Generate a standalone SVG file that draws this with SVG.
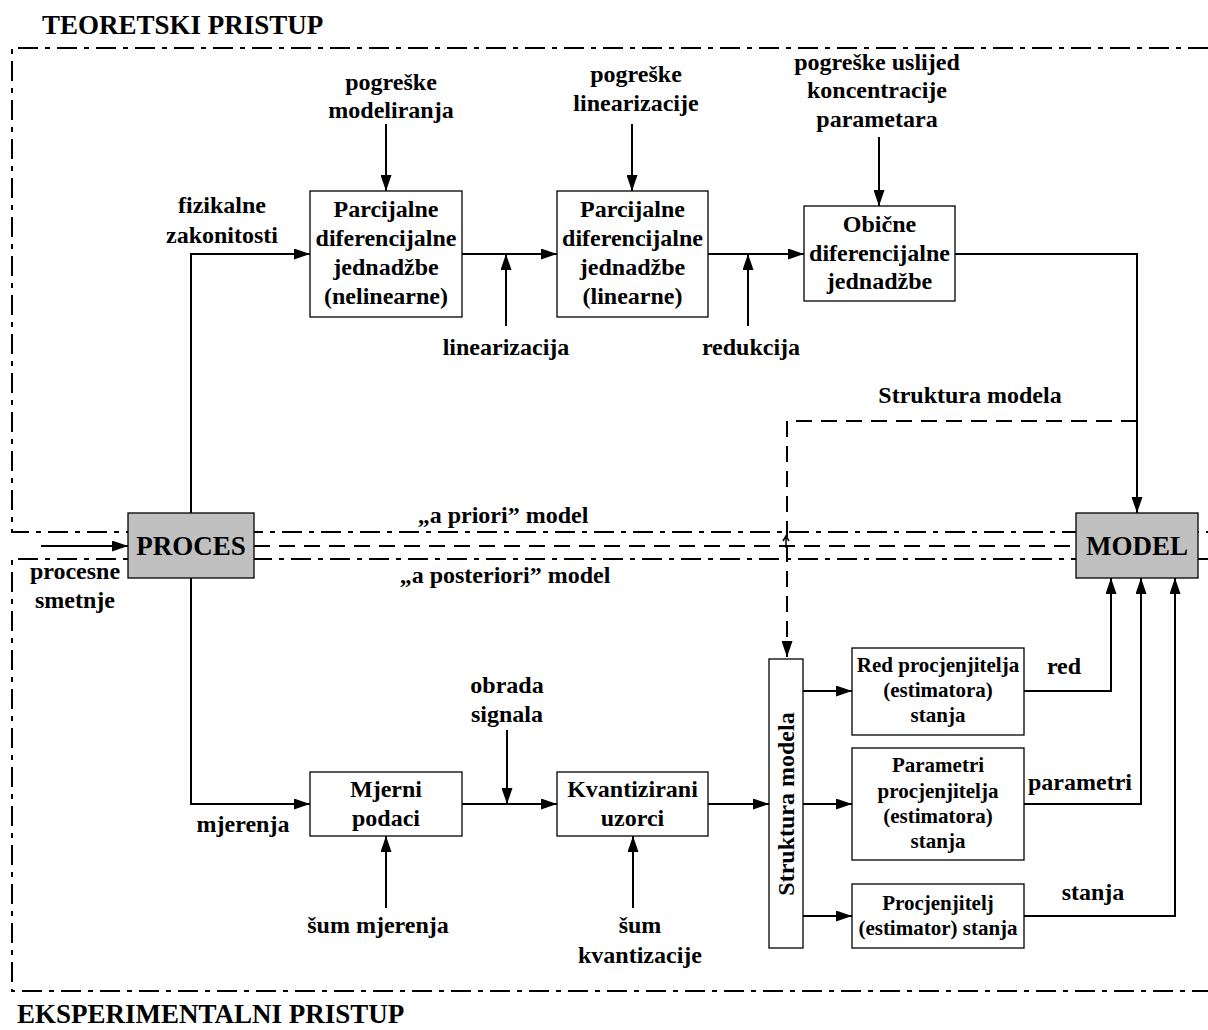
<svg xmlns="http://www.w3.org/2000/svg" width="1208" height="1030" viewBox="0 0 1208 1030">
<style>
text{font-family:"Liberation Serif","Times New Roman",serif;font-weight:bold;fill:#000;text-anchor:middle}
.h{font-size:27px;text-anchor:start}
.big{font-size:27px}
.t{font-size:24px}
.s{font-size:21px}
.box{fill:#fff;stroke:#000;stroke-width:1.3}
.gbox{fill:#c0c0c0;stroke:#000;stroke-width:1.3}
.ln{fill:none;stroke:#000;stroke-width:2}
.dd{fill:none;stroke:#000;stroke-width:2;stroke-dasharray:20 7 5 7}
.da{fill:none;stroke:#000;stroke-width:2;stroke-dasharray:16 9}
</style>
<defs>
<marker id="ah" viewBox="0 0 16 11" refX="16" refY="5.5" markerWidth="16" markerHeight="11" markerUnits="userSpaceOnUse" orient="auto"><path d="M0,0 L16,5.5 L0,11 z" fill="#000"/></marker>
</defs>

<g id="borders">
<path class="dd" d="M1208,48 H12 V532 H1208"/>
<path class="dd" d="M1208,559 H12 V991 H1208"/>
<path class="da" d="M254,546 H1076"/>
</g>
<text class="h" x="42" y="34">TEORETSKI PRISTUP</text>
<text class="h" x="17" y="1023">EKSPERIMENTALNI PRISTUP</text>

<g id="connectors">
<path class="ln" d="M41,546 H128" marker-end="url(#ah)"/>
<path class="ln" d="M191,513 V254 H310" marker-end="url(#ah)"/>
<path class="ln" d="M462,254 H557" marker-end="url(#ah)"/>
<path class="ln" d="M506,326 V254" marker-end="url(#ah)"/>
<path class="ln" d="M386,124 V191" marker-end="url(#ah)"/>
<path class="ln" d="M708,254 H804" marker-end="url(#ah)"/>
<path class="ln" d="M748,326 V254" marker-end="url(#ah)"/>
<path class="ln" d="M632,124 V191" marker-end="url(#ah)"/>
<path class="ln" d="M879,137 V206" marker-end="url(#ah)"/>
<path class="ln" d="M955,254 H1137 V513" marker-end="url(#ah)"/>
<path class="da" d="M1137,421 H787 V657" marker-end="url(#ah)"/>
<path fill="none" stroke="#000" stroke-width="1.5" d="M786,548 V537 M783,541 L786,536 L789,541"/>
<path class="ln" d="M191,578 V804 H310" marker-end="url(#ah)"/>
<path class="ln" d="M462,804 H557" marker-end="url(#ah)"/>
<path class="ln" d="M507,730 V804" marker-end="url(#ah)"/>
<path class="ln" d="M386,908 V836" marker-end="url(#ah)"/>
<path class="ln" d="M633,908 V836" marker-end="url(#ah)"/>
<path class="ln" d="M708,804 H769" marker-end="url(#ah)"/>
<path class="ln" d="M803,691 H852" marker-end="url(#ah)"/>
<path class="ln" d="M803,804 H852" marker-end="url(#ah)"/>
<path class="ln" d="M803,916 H852" marker-end="url(#ah)"/>
<path class="ln" d="M1024,691 H1111 V578" marker-end="url(#ah)"/>
<path class="ln" d="M1024,804 H1141 V578" marker-end="url(#ah)"/>
<path class="ln" d="M1024,916 H1175 V578" marker-end="url(#ah)"/>
</g>

<g id="labels">
<text class="t" x="391" y="90">pogreške</text>
<text class="t" x="391" y="118">modeliranja</text>
<text class="t" x="636" y="82">pogreške</text>
<text class="t" x="636" y="111">linearizacije</text>
<text class="t" x="877" y="70">pogreške uslijed</text>
<text class="t" x="877" y="98">koncentracije</text>
<text class="t" x="877" y="127">parametara</text>
<text class="t" x="222" y="213">fizikalne</text>
<text class="t" x="222" y="243">zakonitosti</text>
<text class="t" x="506" y="355">linearizacija</text>
<text class="t" x="751" y="355">redukcija</text>
<text class="t" x="970" y="403">Struktura modela</text>
<text class="t" x="503" y="523">„a priori” model</text>
<text class="t" x="505" y="583">„a posteriori” model</text>
<text class="t" x="75" y="579">procesne</text>
<text class="t" x="75" y="608">smetnje</text>
<text class="t" x="243" y="832">mjerenja</text>
<text class="t" x="507" y="693">obrada</text>
<text class="t" x="507" y="722">signala</text>
<text class="t" x="378" y="933">šum mjerenja</text>
<text class="t" x="640" y="933">šum</text>
<text class="t" x="640" y="963">kvantizacije</text>
<text class="t" x="1064" y="674">red</text>
<text class="t" x="1080" y="790">parametri</text>
<text class="t" x="1093" y="900">stanja</text>
</g>

<g id="proces">
<rect class="gbox" x="128" y="513" width="126" height="65"/>
<text class="big" x="191" y="555">PROCES</text>
</g>
<g id="model">
<rect class="gbox" x="1076" y="513" width="122" height="65"/>
<text class="big" x="1137" y="555">MODEL</text>
</g>
<g id="pdj-nelinearne">
<rect class="box" x="310" y="191" width="152" height="126"/>
<text class="t" x="386" y="217">Parcijalne</text>
<text class="t" x="386" y="246">diferencijalne</text>
<text class="t" x="386" y="275">jednadžbe</text>
<text class="t" x="386" y="304">(nelinearne)</text>
</g>
<g id="pdj-linearne">
<rect class="box" x="557" y="191" width="151" height="126"/>
<text class="t" x="632.5" y="217">Parcijalne</text>
<text class="t" x="632.5" y="246">diferencijalne</text>
<text class="t" x="632.5" y="275">jednadžbe</text>
<text class="t" x="632.5" y="304">(linearne)</text>
</g>
<g id="obicne">
<rect class="box" x="804" y="206" width="151" height="95"/>
<text class="t" x="879.5" y="232">Obične</text>
<text class="t" x="879.5" y="261">diferencijalne</text>
<text class="t" x="879.5" y="289">jednadžbe</text>
</g>
<g id="mjerni">
<rect class="box" x="310" y="772" width="152" height="64"/>
<text class="t" x="386" y="797">Mjerni</text>
<text class="t" x="386" y="826">podaci</text>
</g>
<g id="kvantizirani">
<rect class="box" x="557" y="772" width="151" height="64"/>
<text class="t" x="632.5" y="797">Kvantizirani</text>
<text class="t" x="632.5" y="826">uzorci</text>
</g>
<g id="struktura">
<rect class="box" x="769" y="659" width="34" height="289"/>
<text class="t" transform="translate(794,804) rotate(-90)" x="0" y="0">Struktura modela</text>
</g>
<g id="red">
<rect class="box" x="852" y="648" width="172" height="87"/>
<text class="s" x="938" y="672">Red procjenjitelja</text>
<text class="s" x="938" y="697">(estimatora)</text>
<text class="s" x="938" y="722">stanja</text>
</g>
<g id="parametri">
<rect class="box" x="852" y="748" width="172" height="112"/>
<text class="s" x="938" y="772">Parametri</text>
<text class="s" x="938" y="798">procjenjitelja</text>
<text class="s" x="938" y="823">(estimatora)</text>
<text class="s" x="938" y="848">stanja</text>
</g>
<g id="procjenjitelj">
<rect class="box" x="852" y="884" width="172" height="64"/>
<text class="s" x="938" y="910">Procjenjitelj</text>
<text class="s" x="938" y="935">(estimator) stanja</text>
</g>
</svg>
